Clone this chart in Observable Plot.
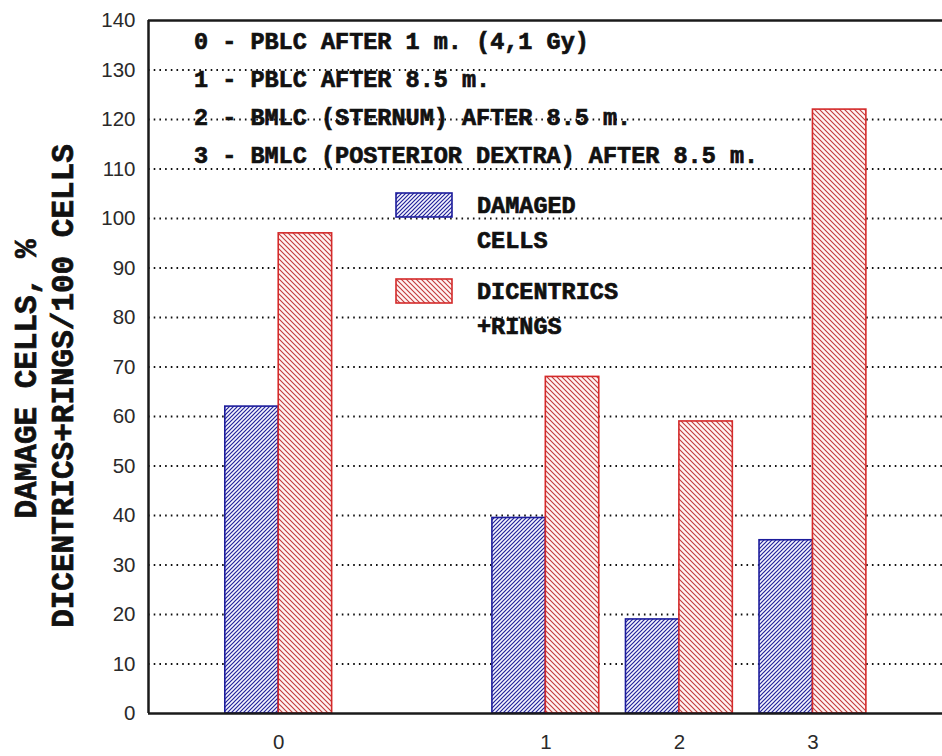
<!DOCTYPE html>
<html>
<head>
<meta charset="utf-8">
<script src="https://cdn.jsdelivr.net/npm/d3@7"></script>
<script src="https://cdn.jsdelivr.net/npm/@observablehq/plot@0.6"></script>
<style>
  html, body { margin: 0; padding: 0; background: #fff; }
  #wrap { position: relative; width: 942px; height: 756px; overflow: hidden; }
  #wrap svg.plot { position: absolute; left: 0; top: 0; }
  .mono { position: absolute; font-family: "Liberation Mono", "Courier New", monospace; font-weight: bold; color: #111; white-space: pre; -webkit-text-stroke: 0.7px #111; }
  .ylab { font-size: 31px; transform: translate(-50%, -50%) rotate(-90deg); line-height: 1; }
  .note { font-size: 23.5px; line-height: 38px; }
  .leg { font-size: 23.5px; line-height: 35px; }
  .sw { position: absolute; }
</style>
</head>
<body>
<svg width="0" height="0" style="position:absolute">
  <defs>
    <pattern id="hatchBlue" patternUnits="userSpaceOnUse" width="4" height="4">
      <rect width="4" height="4" fill="#f6f6ff"/>
      <path d="M-1,1 l2,-2 M0,4 l4,-4 M3,5 l2,-2" stroke="#23239a" stroke-width="1.2"/>
    </pattern>
    <pattern id="hatchRed" patternUnits="userSpaceOnUse" width="5" height="5">
      <rect width="5" height="5" fill="#fff3f3"/>
      <path d="M-1,4 l2,2 M0,0 l5,5 M4,-1 l2,2" stroke="#c23a3a" stroke-width="1.1"/>
    </pattern>
  </defs>
</svg>
<div id="wrap"></div>
<script>
// ---- data ----
const categories = ["0", "1", "2", "3"];
const slots = ["0", "", "1", "2", "3"];           // category order on the axis (one empty slot)
const damagedCells = [62, 39.5, 19, 35];
const dicentricsRings = [97, 68, 59, 122];
const yTicks = [0, 10, 20, 30, 40, 50, 60, 70, 80, 90, 100, 110, 120, 130, 140];
const gridTicks = [10, 20, 30, 40, 50, 60, 70, 80, 90, 100, 110, 120, 130];
const seriesNames = ["DAMAGED\nCELLS", "DICENTRICS\n+RINGS"];
const noteLines = [
  "0 - PBLC AFTER 1 m. (4,1 Gy)",
  "1 - PBLC AFTER 8.5 m.",
  "2 - BMLC (STERNUM) AFTER 8.5 m.",
  "3 - BMLC (POSTERIOR DEXTRA) AFTER 8.5 m."
];
const yLabelLines = ["DAMAGE CELLS, %", "DICENTRICS+RINGS/100 CELLS"];

const xDomain = [-0.975, 4.97];
const half = 0.4;

const rows = categories.map((c, i) => ({
  pos: slots.indexOf(c),
  damaged: damagedCells[i],
  dic: dicentricsRings[i]
}));

const chart = Plot.plot({
  width: 942,
  height: 756,
  marginLeft: 148,
  marginRight: 0,
  marginTop: 20,
  marginBottom: 43,
  style: {
    fontFamily: "'Liberation Sans', Arial, sans-serif",
    fontSize: "20.5px",
    color: "#2a2a2a",
    background: "transparent",
    overflow: "visible"
  },
  x: {
    domain: xDomain,
    ticks: categories.map(c => slots.indexOf(c)),
    tickFormat: i => slots[i],
    tickSize: 0,
    tickPadding: 21,
    label: null
  },
  y: {
    domain: [0, 140],
    ticks: yTicks,
    tickSize: 0,
    tickPadding: 13,
    label: null
  },
  marks: [
    Plot.ruleY(gridTicks, {stroke: "#111", strokeWidth: 2, strokeDasharray: "1.6 4.1"}),
    Plot.rectY(rows, {x1: d => d.pos - half, x2: d => d.pos, y: "damaged",
      fill: "url(#hatchBlue)", stroke: "#1c1c9c", strokeWidth: 1.6}),
    Plot.rectY(rows, {x1: d => d.pos, x2: d => d.pos + half, y: "dic",
      fill: "url(#hatchRed)", stroke: "#d42a2a", strokeWidth: 1.6}),
    Plot.ruleY([0], {stroke: "#1a1a1a", strokeWidth: 2.5}),
    Plot.ruleY([140], {stroke: "#1a1a1a", strokeWidth: 2.5}),
    Plot.ruleX([xDomain[0]], {stroke: "#1a1a1a", strokeWidth: 2.5})
  ]
});
chart.classList.add("plot");

const wrap = document.getElementById("wrap");
wrap.appendChild(chart);

function addDiv(cls, text, style) {
  const d = document.createElement("div");
  d.className = cls;
  d.textContent = text;
  Object.assign(d.style, style);
  wrap.appendChild(d);
  return d;
}

// y-axis title (two rotated lines)
addDiv("mono ylab", yLabelLines[0], {left: "27px", top: "379px"});
addDiv("mono ylab", yLabelLines[1], {left: "64px", top: "386px"});

// notes
addDiv("mono note", noteLines.join("\n"), {left: "194px", top: "24px"});

// legend
function swatch(fillId, stroke, left, top) {
  const ns = "http://www.w3.org/2000/svg";
  const s = document.createElementNS(ns, "svg");
  s.setAttribute("width", 58);
  s.setAttribute("height", 27);
  s.setAttribute("class", "sw");
  s.style.left = left + "px";
  s.style.top = top + "px";
  const r = document.createElementNS(ns, "rect");
  r.setAttribute("x", 1); r.setAttribute("y", 1);
  r.setAttribute("width", 56); r.setAttribute("height", 24);
  r.setAttribute("fill", `url(#${fillId})`);
  r.setAttribute("stroke", stroke);
  r.setAttribute("stroke-width", 1.6);
  s.appendChild(r);
  wrap.appendChild(s);
}
swatch("hatchBlue", "#1c1c9c", 395, 192);
swatch("hatchRed", "#d42a2a", 395, 278);
addDiv("mono leg", seriesNames[0], {left: "477px", top: "189px"});
addDiv("mono leg", seriesNames[1], {left: "477px", top: "275px"});
</script>
</body>
</html>
